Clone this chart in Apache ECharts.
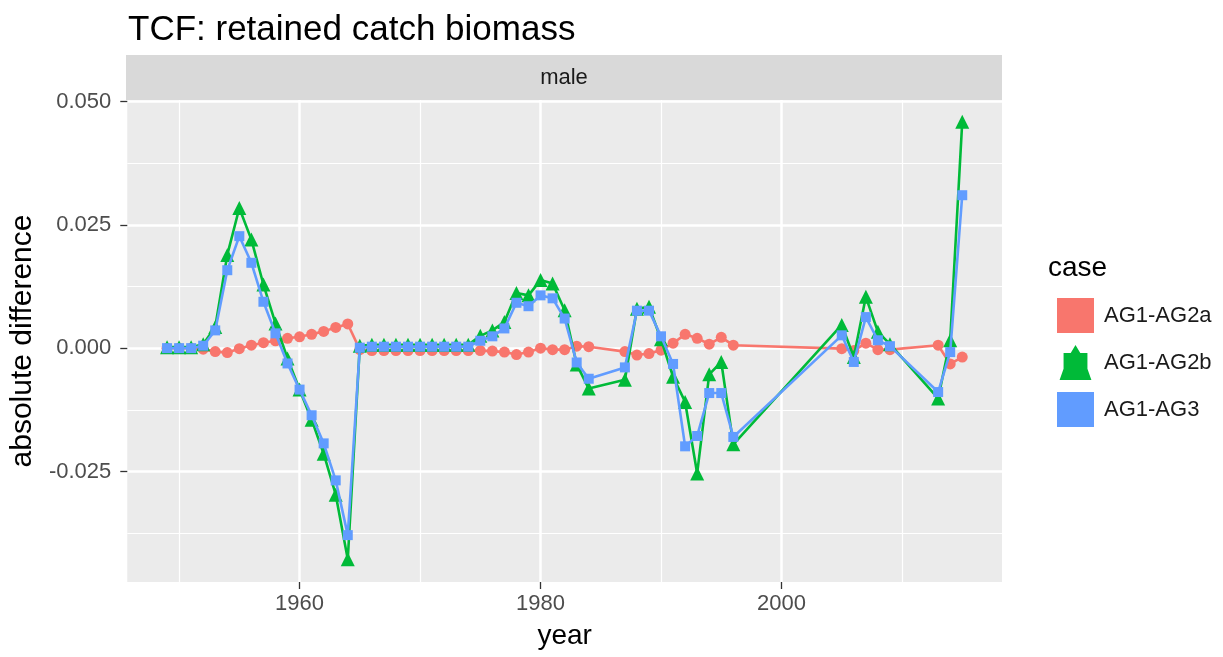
<!DOCTYPE html>
<html>
<head>
<meta charset="utf-8">
<script src="https://cdn.jsdelivr.net/npm/echarts@6/dist/echarts.min.js"></script>
<style>
  html, body { margin: 0; padding: 0; background: #fff; }
  #chart { width: 1223px; height: 657px; }
</style>
</head>
<body>
<div id="chart"></div>
<script>
// ---- data ----
const years = [
  1949, 1950, 1951, 1952, 1953, 1954, 1955, 1956, 1957, 1958,
  1959, 1960, 1961, 1962, 1963, 1964, 1965, 1966, 1967, 1968,
  1969, 1970, 1971, 1972, 1973, 1974, 1975, 1976, 1977, 1978,
  1979, 1980, 1981, 1982, 1983, 1984, 1987, 1988, 1989, 1990,
  1991, 1992, 1993, 1994, 1995, 1996, 2005, 2006, 2007, 2008,
  2009, 2013, 2014, 2015
];
const ag2a = [
  0.0000, 0.0000, 0.0000, -0.0002, -0.0007, -0.0009, -0.0001, 0.0006, 0.0011, 0.0015,
  0.0020, 0.0023, 0.0028, 0.0034, 0.0042, 0.0049, -0.0003, -0.0005, -0.0005, -0.0005,
  -0.0005, -0.0005, -0.0005, -0.0005, -0.0005, -0.0005, -0.0005, -0.0006, -0.0008, -0.0013,
  -0.0008, 0.0000, -0.0003, -0.0003, 0.0004, 0.0003, -0.0007, -0.0014, -0.0011, -0.0004,
  0.0010, 0.0028, 0.0020, 0.0008, 0.0022, 0.0006, -0.0001, -0.0005, 0.0010, -0.0003,
  -0.0003, 0.0006, -0.0032, -0.0018
];
const ag2b = [
  0.0002, 0.0002, 0.0002, 0.0008, 0.0043, 0.0189, 0.0284, 0.0220, 0.0129, 0.0050,
  -0.0021, -0.0084, -0.0145, -0.0214, -0.0297, -0.0428, 0.0005, 0.0007, 0.0007, 0.0007,
  0.0007, 0.0007, 0.0007, 0.0007, 0.0007, 0.0007, 0.0025, 0.0036, 0.0053, 0.0112,
  0.0107, 0.0138, 0.0131, 0.0077, -0.0033, -0.0082, -0.0064, 0.0080, 0.0084, 0.0018,
  -0.0058, -0.0109, -0.0254, -0.0053, -0.0028, -0.0195, 0.0047, -0.0018, 0.0104, 0.0033,
  0.0008, -0.0102, 0.0016, 0.0459
];
const ag3 = [
  0.0000, 0.0000, 0.0000, 0.0005, 0.0036, 0.0158, 0.0227, 0.0173, 0.0094, 0.0030,
  -0.0031, -0.0084, -0.0136, -0.0193, -0.0268, -0.0379, 0.0001, 0.0003, 0.0003, 0.0003,
  0.0003, 0.0003, 0.0003, 0.0003, 0.0003, 0.0003, 0.0015, 0.0024, 0.0040, 0.0092,
  0.0085, 0.0107, 0.0101, 0.0060, -0.0029, -0.0062, -0.0039, 0.0076, 0.0076, 0.0024,
  -0.0032, -0.0199, -0.0178, -0.0091, -0.0091, -0.0180, 0.0026, -0.0028, 0.0063, 0.0016,
  0.0004, -0.0089, -0.0008, 0.0310
];
const seriesNames = ['AG1-AG2a', 'AG1-AG2b', 'AG1-AG3'];
const xMajorTicks = [1960, 1980, 2000];
const xMinorTicks = [1950, 1970, 1990, 2010];
const yMajorTicks = [-0.025, 0, 0.025, 0.05];
const yMinorTicks = [-0.0375, -0.0125, 0.0125, 0.0375];

// ---- layout / style ----
const FONT = '"Liberation Sans", Arial, Helvetica, sans-serif';
const colors = ['#F8766D', '#00BA38', '#619CFF'];
const xMin = 1945.7, xMax = 2018.3;
const yMin = -0.0474, yMax = 0.0503;
const G = { left: 126, right: 221, top: 100, bottom: 75 };

function pairs(vals) { return years.map((y, i) => [y, vals[i]]); }

const chart = echarts.init(document.getElementById('chart'), null, { renderer: 'canvas' });

const minorAxis = (min, max, ticks, pos) => ({
  type: 'value', min: min, max: max, position: pos,
  axisLine: { show: false, onZero: false },
  axisTick: { show: false, customValues: ticks },
  axisLabel: { show: false, customValues: ticks },
  splitLine: { show: true, lineStyle: { color: '#FFFFFF', width: 1.2 } }
});

const greenKey = 'path://M20,0 L26,10 L35,10 L35,30 L40,44 L0,44 L5,30 L5,10 L14,10 Z';

chart.setOption({
  animation: false,
  backgroundColor: '#FFFFFF',
  title: {
    text: 'TCF: retained catch biomass',
    left: 123, top: 8,
    textStyle: { fontFamily: FONT, fontSize: 35, fontWeight: 'normal', color: '#000000' }
  },
  grid: {
    left: G.left, right: G.right, top: G.top, bottom: G.bottom,
    show: true, backgroundColor: '#EBEBEB', borderWidth: 0
  },
  legend: {
    orient: 'vertical', left: 1052, top: 293,
    itemWidth: 37, itemHeight: 35, itemGap: 12,
    textStyle: { fontFamily: FONT, fontSize: 22, color: '#1A1A1A', padding: [0, 0, 0, 5] },
    data: [
      { name: seriesNames[0], icon: 'rect' },
      { name: seriesNames[1], icon: greenKey },
      { name: seriesNames[2], icon: 'rect' }
    ]
  },
  graphic: [
    { type: 'rect', left: G.left, top: 55, shape: { width: 1223 - G.left - G.right, height: 45 },
      style: { fill: '#D9D9D9' }, silent: true },
    { type: 'text', x: (G.left + 1223 - G.right) / 2, y: 77.5,
      style: { text: 'male', font: '22px ' + FONT, fill: '#1A1A1A', textAlign: 'center', textVerticalAlign: 'middle' } },
    { type: 'text', x: 1048, y: 268.5,
      style: { text: 'case', font: '28px ' + FONT, fill: '#000000', textAlign: 'left', textVerticalAlign: 'middle' } }
  ],
  xAxis: [
    {
      type: 'value', min: xMin, max: xMax, position: 'bottom',
      name: 'year', nameLocation: 'middle', nameGap: 40,
      nameTextStyle: { fontFamily: FONT, fontSize: 28, color: '#000000' },
      axisLine: { show: false, onZero: false },
      axisTick: { show: true, customValues: xMajorTicks, length: 7, lineStyle: { color: '#333333', width: 1.3 } },
      axisLabel: { customValues: xMajorTicks, fontFamily: FONT, fontSize: 22, color: '#4D4D4D', margin: 11,
        formatter: v => String(v) },
      splitLine: { show: true, lineStyle: { color: '#FFFFFF', width: 2.5 } }
    },
    minorAxis(xMin, xMax, xMinorTicks, 'bottom')
  ],
  yAxis: [
    {
      type: 'value', min: yMin, max: yMax, position: 'left',
      name: 'absolute difference', nameLocation: 'middle', nameGap: 86,
      nameTextStyle: { fontFamily: FONT, fontSize: 30, color: '#000000' },
      axisLine: { show: false, onZero: false },
      axisTick: { show: true, customValues: yMajorTicks, length: 7, lineStyle: { color: '#333333', width: 1.3 } },
      axisLabel: { customValues: yMajorTicks, fontFamily: FONT, fontSize: 22, color: '#4D4D4D', margin: 16,
        formatter: v => v.toFixed(3) },
      splitLine: { show: true, lineStyle: { color: '#FFFFFF', width: 2.5 } }
    },
    minorAxis(yMin, yMax, yMinorTicks, 'left')
  ],
  series: [
    { name: seriesNames[0], type: 'line', data: pairs(ag2a), color: colors[0],
      symbol: 'circle', symbolSize: 11, showAllSymbol: true,
      lineStyle: { width: 2.6, color: colors[0] }, itemStyle: { color: colors[0] }, z: 2 },
    { name: seriesNames[1], type: 'line', data: pairs(ag2b), color: colors[1],
      symbol: 'triangle', symbolSize: 14, showAllSymbol: true,
      lineStyle: { width: 2.6, color: colors[1] }, itemStyle: { color: colors[1] }, z: 3 },
    { name: seriesNames[2], type: 'line', data: pairs(ag3), color: colors[2],
      symbol: 'rect', symbolSize: 10, showAllSymbol: true,
      lineStyle: { width: 2.6, color: colors[2] }, itemStyle: { color: colors[2] }, z: 4 }
  ]
});
</script>
</body>
</html>
